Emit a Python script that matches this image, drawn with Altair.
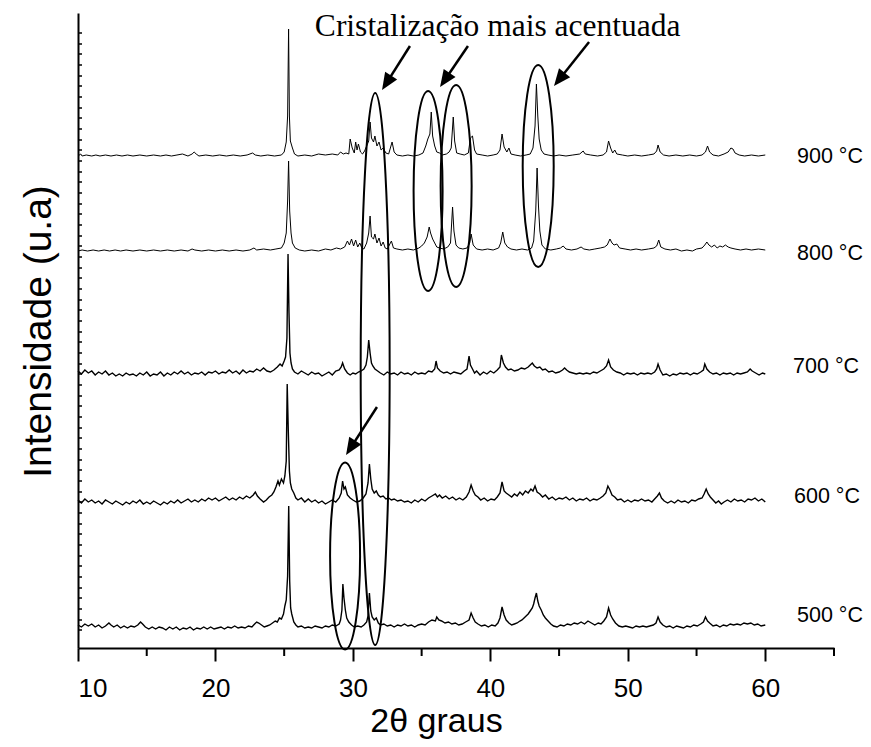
import math
import altair as alt
import pandas as pd

W, H = 756, 635
X_DOM = [10, 65]
Y_DOM = [0, 635]

# ---- XRD traces: (2theta, intensity above own baseline, a.u.) ----
xrd_900 = [(10.0,0),(10.2,2),(10.3,0),(10.6,1),(11.0,0),(11.3,1),(11.6,0),(12.0,1),(12.4,0),(12.8,1),
 (13.2,0),(13.6,1),(14.0,0),(14.5,1),(15.0,0),(15.5,1),(16.0,0),(16.4,1),(16.8,0),(17.2,1),(17.6,2),
 (18.0,0),(18.3,2),(18.45,4),(18.6,2),(18.8,0),(19.3,1),(19.8,0),(20.3,1),(20.8,0),(21.3,1),(21.8,0),
 (22.3,1),(22.7,3),(22.9,1),(23.3,0),(23.8,1),(24.3,0),(24.8,1),(25.0,4),(25.15,14),(25.25,40),
 (25.32,127),(25.38,40),(25.45,15),(25.6,8),(25.75,2),(26.0,0),(26.5,1),(27.0,0),(27.5,2),(28.0,1),
 (28.5,2),(28.9,1),(29.1,4),(29.3,2),(29.5,3),(29.7,2),(29.8,17),(29.95,8),(30.1,3),(30.2,14),(30.3,6),
 (30.4,12),(30.55,4),(30.7,2),(30.85,5),(31.0,10),(31.15,15),(31.25,34),(31.35,18),(31.5,14),(31.6,20),
 (31.75,10),(31.9,14),(32.05,6),(32.2,8),(32.4,3),(32.6,2),(32.85,14),(33.0,4),(33.2,1),(33.6,0),(34.0,1),
 (34.4,0),(34.8,1),(35.1,3),(35.3,10),(35.45,17),(35.6,22),(35.7,44),(35.8,20),(35.95,10),(36.1,4),
 (36.3,3),(36.5,1),(36.8,2),(37.0,4),(37.15,8),(37.3,39),(37.4,15),(37.55,3),(37.8,2),(38.1,1),(38.4,3),
 (38.55,18),(38.7,20),(38.85,6),(39.0,2),(39.4,1),(39.8,0),(40.2,1),(40.5,2),(40.7,6),(40.85,22),(41.0,9),
 (41.2,4),(41.35,8),(41.5,2),(41.8,1),(42.2,0),(42.6,1),(42.9,2),(43.1,8),(43.25,30),(43.35,72),(43.45,40),
 (43.55,17),(43.7,6),(43.9,2),(44.2,1),(44.6,0),(45.0,1),(45.5,0),(46.0,1),(46.5,2),(46.75,5),(46.9,2),
 (47.3,1),(47.8,0),(48.2,1),(48.45,4),(48.6,15),(48.75,8),(48.9,3),(49.05,6),(49.2,2),(49.6,1),(50.0,0),
 (50.5,1),(51.0,0),(51.5,1),(51.9,2),(52.1,5),(52.2,11),(52.35,4),(52.6,1),(53.0,0),(53.5,1),(54.0,0),
 (54.5,1),(55.0,0),(55.4,1),(55.65,4),(55.8,10),(55.95,4),(56.2,1),(56.6,0),(57.0,2),(57.3,4),(57.5,8),
 (57.65,7),(57.8,3),(58.1,1),(58.5,0),(59.0,1),(59.5,0),(60.0,1)]

xrd_800 = [(10.0,0),(10.3,1),(10.7,0),(11.1,1),(11.5,0),(11.9,1),(12.3,0),(12.7,1),(13.1,0),(13.5,1),
 (14.0,0),(14.5,1),(15.0,0),(15.5,1),(16.0,0),(16.5,1),(17.0,0),(17.5,1),(18.0,0),(18.3,2),(18.5,1),
 (19.0,0),(19.5,1),(20.0,0),(20.5,1),(21.0,0),(21.5,1),(22.0,0),(22.5,1),(22.8,3),(23.0,1),(23.5,2),
 (24.0,1),(24.4,2),(24.8,3),(25.0,8),(25.15,18),(25.25,50),(25.32,90),(25.4,40),(25.5,18),(25.6,8),
 (25.8,3),(26.1,1),(26.5,0),(27.0,1),(27.5,0),(28.0,2),(28.4,1),(28.8,3),(29.1,2),(29.4,4),(29.6,10),
 (29.75,6),(29.9,12),(30.05,5),(30.2,11),(30.35,4),(30.5,8),(30.65,3),(30.8,2),(31.0,8),(31.15,18),
 (31.25,35),(31.35,14),(31.5,12),(31.6,17),(31.75,8),(31.9,13),(32.05,5),(32.2,9),(32.35,3),(32.5,2),
 (32.8,10),(32.95,3),(33.2,2),(33.6,1),(34.0,2),(34.4,1),(34.8,3),(35.0,5),(35.2,8),(35.4,14),(35.55,24),
 (35.65,18),(35.8,12),(35.95,8),(36.1,4),(36.3,3),(36.6,2),(36.9,4),(37.1,8),(37.25,44),(37.35,20),
 (37.5,6),(37.7,3),(38.0,2),(38.3,3),(38.5,8),(38.6,17),(38.75,6),(39.0,2),(39.4,1),(39.8,2),(40.2,1),
 (40.6,3),(40.75,8),(40.9,19),(41.05,8),(41.25,4),(41.5,2),(41.9,1),(42.3,2),(42.7,1),(43.0,3),(43.15,10),
 (43.3,40),(43.4,83),(43.5,45),(43.6,20),(43.75,6),(44.0,2),(44.4,1),(44.8,2),(45.1,3),(45.3,5),(45.5,2),
 (45.9,1),(46.3,2),(46.6,4),(46.8,2),(47.2,1),(47.6,2),(48.0,3),(48.3,4),(48.5,6),(48.7,12),(48.85,8),
 (49.0,6),(49.2,7),(49.4,3),(49.8,2),(50.2,1),(50.6,2),(51.0,1),(51.5,2),(51.9,3),(52.1,5),(52.25,11),
 (52.4,4),(52.7,2),(53.1,1),(53.5,2),(53.9,0),(54.3,1),(54.7,0),(55.0,2),(55.4,3),(55.6,6),(55.75,9),
 (55.9,6),(56.1,4),(56.3,6),(56.5,3),(56.7,5),(56.9,4),(57.1,6),(57.3,4),(57.5,3),(57.8,2),(58.2,1),
 (58.6,2),(59.0,1),(59.5,2),(60.0,1)]

xrd_700 = [(10.0,2),(10.25,-1),(10.5,3),(10.75,0),(11.0,2),(11.25,-2),(11.5,1),(11.75,-1),(12.0,2),
 (12.25,-2),(12.5,0),(12.75,-3),(13.0,-1),(13.25,-3),(13.5,0),(13.75,-2),(14.0,-1),(14.25,-3),(14.5,0),
 (14.75,-2),(15.0,1),(15.25,-3),(15.5,-1),(15.75,-2),(16.0,1),(16.25,-3),(16.5,0),(16.75,-2),(17.0,1),
 (17.25,-1),(17.5,2),(17.75,-1),(18.0,1),(18.25,-2),(18.5,0),(18.75,-1),(19.0,1),(19.25,-2),(19.5,1),
 (19.75,0),(20.0,2),(20.25,-1),(20.5,1),(20.75,0),(21.0,3),(21.25,0),(21.5,2),(21.75,-1),(22.0,3),
 (22.25,0),(22.5,2),(22.75,1),(23.0,4),(23.25,2),(23.5,5),(23.75,2),(24.0,1),(24.25,3),(24.5,6),(24.7,9),
 (24.85,7),(25.0,12),(25.1,16),(25.2,35),(25.28,119),(25.35,60),(25.42,20),(25.5,10),(25.6,4),(25.75,1),
 (26.0,-1),(26.25,2),(26.5,0),(26.75,-2),(27.0,1),(27.25,-1),(27.5,0),(27.75,-3),(28.0,-1),(28.25,1),
 (28.5,-2),(28.75,2),(29.0,3),(29.15,6),(29.25,10),(29.4,4),(29.6,0),(29.8,-2),(30.0,0),(30.2,-1),
 (30.4,1),(30.6,2),(30.8,4),(30.95,8),(31.05,16),(31.15,33),(31.25,20),(31.35,10),(31.45,7),(31.6,4),
 (31.8,2),(32.0,0),(32.25,-2),(32.5,1),(32.75,-1),(33.0,0),(33.25,-2),(33.5,1),(33.75,-1),(34.0,0),
 (34.25,-2),(34.5,1),(34.75,-1),(35.0,0),(35.25,-1),(35.5,2),(35.75,1),(35.95,4),(36.05,12),(36.15,5),
 (36.35,2),(36.6,0),(36.85,1),(37.1,-1),(37.35,1),(37.6,0),(37.85,-1),(38.1,2),(38.3,4),(38.45,17),
 (38.55,8),(38.7,4),(38.85,0),(39.0,2),(39.25,-2),(39.5,1),(39.75,-1),(40.0,2),(40.25,0),(40.5,3),
 (40.7,6),(40.8,18),(40.95,10),(41.1,6),(41.3,3),(41.5,4),(41.75,2),(42.0,3),(42.25,5),(42.5,4),(42.75,6),
 (42.9,8),(43.05,10),(43.2,7),(43.4,5),(43.6,6),(43.8,3),(44.0,4),(44.25,1),(44.5,2),(44.75,0),(45.0,1),
 (45.25,3),(45.4,5),(45.55,3),(45.75,1),(46.0,0),(46.25,-1),(46.5,0),(46.75,-1),(47.0,0),(47.25,-1),
 (47.5,1),(47.75,0),(48.0,2),(48.25,4),(48.45,7),(48.6,13),(48.75,6),(48.95,3),(49.2,1),(49.45,0),
 (49.7,-2),(49.95,0),(50.2,-1),(50.45,0),(50.7,-2),(50.95,0),(51.2,-1),(51.45,0),(51.7,-1),(51.95,1),
 (52.1,4),(52.2,9),(52.35,3),(52.55,-2),(52.8,-1),(53.05,-3),(53.3,-1),(53.55,-2),(53.8,0),(54.05,-1),
 (54.3,0),(54.55,-2),(54.8,0),(55.05,-1),(55.3,1),(55.5,3),(55.6,9),(55.75,4),(55.95,1),(56.2,-1),
 (56.45,0),(56.7,-2),(56.95,0),(57.2,-1),(57.45,0),(57.7,-2),(57.95,0),(58.2,-1),(58.45,0),(58.7,1),
 (58.9,4),(59.05,2),(59.3,0),(59.55,-2),(59.8,0),(60.0,-1)]

xrd_600 = [(10.0,1),(10.25,-2),(10.5,2),(10.75,-1),(11.0,1),(11.25,-2),(11.5,0),(11.75,-3),(12.0,1),
 (12.25,-1),(12.5,-3),(12.75,0),(13.0,-2),(13.25,-4),(13.5,-1),(13.75,-3),(14.0,0),(14.25,-2),(14.5,1),
 (14.75,-3),(15.0,-1),(15.25,-3),(15.5,0),(15.75,-2),(16.0,-4),(16.25,-1),(16.5,-3),(16.75,0),(17.0,-2),
 (17.25,1),(17.5,-2),(17.75,0),(18.0,2),(18.25,-1),(18.5,1),(18.75,-1),(19.0,2),(19.25,0),(19.5,3),
 (19.75,1),(20.0,3),(20.25,0),(20.5,2),(20.75,4),(21.0,1),(21.25,3),(21.5,1),(21.75,4),(22.0,2),(22.25,5),
 (22.5,3),(22.75,6),(22.9,9),(23.05,5),(23.25,2),(23.5,-1),(23.7,1),(23.9,4),(24.1,6),(24.25,9),(24.4,14),
 (24.55,20),(24.65,16),(24.8,22),(24.95,18),(25.05,25),(25.15,40),(25.22,117),(25.3,70),(25.38,30),
 (25.45,18),(25.55,12),(25.7,8),(25.85,3),(26.0,1),(26.25,3),(26.5,-1),(26.75,2),(27.0,-1),(27.25,1),
 (27.5,-2),(27.75,0),(28.0,-3),(28.25,-1),(28.5,1),(28.75,-1),(29.0,3),(29.15,8),(29.25,20),(29.35,12),
 (29.45,14),(29.6,6),(29.8,3),(30.0,1),(30.25,-1),(30.5,0),(30.75,3),(30.95,7),(31.1,18),(31.2,37),
 (31.3,22),(31.4,12),(31.55,8),(31.7,10),(31.85,6),(32.0,4),(32.2,5),(32.4,2),(32.6,3),(32.8,1),(33.0,2),
 (33.25,0),(33.5,1),(33.75,-1),(34.0,0),(34.25,-2),(34.5,1),(34.75,-1),(35.0,2),(35.25,0),(35.5,3),
 (35.75,5),(36.0,7),(36.15,4),(36.3,6),(36.5,3),(36.75,5),(37.0,2),(37.25,4),(37.5,1),(37.75,3),(38.0,1),
 (38.25,4),(38.45,9),(38.6,16),(38.75,10),(38.9,6),(39.1,4),(39.3,1),(39.55,3),(39.8,0),(40.05,2),
 (40.3,1),(40.5,4),(40.7,8),(40.85,19),(41.0,10),(41.15,8),(41.35,6),(41.55,4),(41.75,7),(41.95,5),
 (42.15,9),(42.35,6),(42.55,10),(42.75,8),(42.95,12),(43.1,10),(43.25,15),(43.4,9),(43.6,7),(43.8,4),
 (44.0,6),(44.25,2),(44.5,4),(44.75,1),(45.0,3),(45.25,2),(45.5,4),(45.75,1),(46.0,3),(46.25,0),(46.5,2),
 (46.75,1),(47.0,3),(47.25,0),(47.5,2),(47.75,1),(48.0,3),(48.2,5),(48.4,8),(48.55,15),(48.7,11),
 (48.85,6),(49.05,4),(49.25,1),(49.5,2),(49.75,-1),(50.0,1),(50.25,-1),(50.5,1),(50.75,0),(51.0,2),
 (51.25,0),(51.5,1),(51.75,-1),(51.95,2),(52.15,5),(52.3,8),(52.45,3),(52.65,0),(52.9,-2),(53.15,0),
 (53.4,-2),(53.65,1),(53.9,-1),(54.15,0),(54.4,-2),(54.65,1),(54.9,0),(55.15,2),(55.4,3),(55.55,7),
 (55.7,12),(55.85,7),(56.0,4),(56.2,1),(56.4,-2),(56.6,0),(56.8,-3),(57.0,-1),(57.25,1),(57.5,-1),
 (57.75,2),(58.0,0),(58.25,1),(58.5,-1),(58.75,2),(59.0,1),(59.25,3),(59.5,0),(59.75,2),(60.0,-1)]

xrd_500 = [(10.0,1),(10.25,-1),(10.5,2),(10.75,0),(11.0,2),(11.25,-1),(11.5,1),(11.75,-2),(12.0,0),
 (12.25,3),(12.4,1),(12.6,-1),(12.85,1),(13.1,-2),(13.35,0),(13.6,-2),(13.85,0),(14.1,-1),(14.35,1),
 (14.55,4),(14.7,2),(14.9,-1),(15.15,-3),(15.4,-1),(15.65,-3),(15.9,-1),(16.15,-2),(16.4,-4),(16.65,-1),
 (16.9,-3),(17.15,-1),(17.4,-4),(17.65,-2),(17.9,-3),(18.15,-1),(18.4,-4),(18.65,-2),(18.9,-3),(19.15,-1),
 (19.4,-3),(19.65,-1),(19.9,-3),(20.15,-2),(20.4,-1),(20.65,-3),(20.9,-1),(21.15,-2),(21.4,0),(21.65,-2),
 (21.9,-1),(22.15,-2),(22.4,0),(22.65,-1),(22.85,2),(23.0,4),(23.15,3),(23.35,1),(23.55,-1),(23.75,0),
 (23.95,1),(24.15,3),(24.35,5),(24.5,4),(24.65,8),(24.8,7),(24.95,12),(25.05,20),(25.15,26),(25.25,50),
 (25.33,120),(25.4,45),(25.47,18),(25.55,12),(25.7,4),(25.85,1),(26.0,-1),(26.25,0),(26.5,-2),(26.75,-1),
 (27.0,-2),(27.25,0),(27.5,-1),(27.75,-2),(28.0,0),(28.25,-1),(28.5,1),(28.75,0),(29.0,2),(29.1,6),
 (29.2,16),(29.27,42),(29.35,28),(29.45,16),(29.55,8),(29.7,4),(29.9,1),(30.1,-1),(30.35,0),(30.6,-1),
 (30.8,1),(31.0,4),(31.1,10),(31.2,33),(31.3,15),(31.4,9),(31.55,6),(31.7,8),(31.85,3),(32.0,1),(32.25,2),
 (32.5,0),(32.75,1),(33.0,-1),(33.25,1),(33.5,0),(33.75,2),(34.0,0),(34.25,1),(34.5,-1),(34.75,1),
 (35.0,2),(35.25,1),(35.5,4),(35.75,6),(36.0,5),(36.1,9),(36.25,6),(36.45,5),(36.7,3),(36.95,4),(37.2,2),
 (37.45,3),(37.7,1),(37.95,2),(38.2,4),(38.45,6),(38.6,13),(38.75,8),(38.9,4),(39.1,2),(39.35,0),(39.6,1),
 (39.85,-1),(40.1,1),(40.35,0),(40.55,3),(40.7,8),(40.85,19),(41.0,11),(41.15,6),(41.35,3),(41.55,1),
 (41.75,2),(41.95,3),(42.15,5),(42.3,6),(42.45,8),(42.6,10),(42.75,12),(42.9,15),(43.05,18),(43.15,22),
 (43.25,28),(43.35,33),(43.45,25),(43.55,20),(43.7,16),(43.85,11),(44.0,8),(44.2,5),(44.4,2),(44.6,0),
 (44.85,-1),(45.1,1),(45.35,0),(45.6,2),(45.85,1),(46.1,3),(46.35,2),(46.6,4),(46.85,2),(47.1,5),
 (47.35,3),(47.6,1),(47.85,3),(48.05,2),(48.25,5),(48.45,9),(48.6,18),(48.75,11),(48.9,7),(49.1,3),
 (49.35,0),(49.6,-1),(49.85,0),(50.1,-1),(50.35,-2),(50.6,0),(50.85,-1),(51.1,0),(51.35,-1),(51.6,0),
 (51.85,1),(52.05,3),(52.2,9),(52.35,4),(52.55,1),(52.8,-1),(53.05,0),(53.3,-2),(53.55,0),(53.8,-1),
 (54.05,-2),(54.3,0),(54.55,-1),(54.8,1),(55.05,0),(55.3,2),(55.5,4),(55.65,9),(55.8,5),(55.95,3),
 (56.2,0),(56.45,1),(56.7,-1),(56.95,1),(57.2,0),(57.45,2),(57.7,1),(57.95,2),(58.2,1),(58.45,3),
 (58.7,2),(58.95,3),(59.2,1),(59.45,2),(59.7,0),(60.0,1)]

temps = ["900", "800", "700", "600", "500"]
series = [xrd_900, xrd_800, xrd_700, xrd_600, xrd_500]
stack_offset = [492, 397, 275, 147, 22]   # vertical offset of each pattern (a.u.)
noisy = ["700", "600", "500"]

rows = []
for t, s, off in zip(temps, series, stack_offset):
    for tt, inten in s:
        rows.append({"trace": t, "x": tt, "y": off + inten})
df = pd.DataFrame(rows)
df_smooth = df[~df["trace"].isin(noisy)]
df_noisy = df[df["trace"].isin(noisy)]

# ---- annotations ----
label_text = ["900 \u00b0C", "800 \u00b0C", "700 \u00b0C", "600 \u00b0C", "500 \u00b0C"]
label_x = [62.31, 62.31, 62.02, 62.09, 62.31]
label_y = [485, 388, 275, 145, 26]

ell_cx = [31.62, 35.47, 37.51, 43.48, 29.43]
ell_cy = [279, 457, 462, 482, 92]
ell_hw = [14.5, 14.5, 15.5, 15.5, 15.0]   # px
ell_hh = [276, 100, 101, 101, 93.5]        # px

arr_x0 = [34.15, 38.37, 47.18, 31.75]
arr_y0 = [602, 602, 606, 241]
arr_x1 = [32.12, 36.34, 44.63, 29.50]
arr_y1 = [558, 561, 562, 193]

title_txt = "Cristaliza\u00e7\u00e3o mais acentuada"
x_major = [10, 20, 30, 40, 50, 60]
x_minor = [15, 25, 35, 45, 55, 65]
y_minor = [615, 604, 594, 583, 572, 562, 551, 540, 530, 519, 508, 498, 487, 476, 466, 455, 444, 434,
           423, 412, 402, 391, 380, 370, 359, 348, 338, 327, 316, 306, 295, 284, 274, 263, 252, 242,
           231, 220, 210, 199, 188, 178, 167, 156, 146, 135, 124, 114, 103, 92, 82, 71, 60, 50, 39, 28, 18]

PXX = W / (X_DOM[1] - X_DOM[0])
PXY = H / (Y_DOM[1] - Y_DOM[0])


def ellipse_path(a, k=0.5523):
    ka = k * a
    return (f"M 0 -1 C {ka:.4f} -1 {a:.4f} {-k} {a:.4f} 0 "
            f"C {a:.4f} {k} {ka:.4f} 1 0 1 "
            f"C {-ka:.4f} 1 {-a:.4f} {k} {-a:.4f} 0 "
            f"C {-a:.4f} {-k} {-ka:.4f} -1 0 -1 Z")


ell_df = pd.DataFrame({
    "x": ell_cx, "y": ell_cy,
    "shape": [ellipse_path(w / h) for w, h in zip(ell_hw, ell_hh)],
    "size": [4 * h * h for h in ell_hh],
})

arr_rows = []
for x0, y0, x1, y1 in zip(arr_x0, arr_y0, arr_x1, arr_y1):
    dxp = (x1 - x0) * PXX
    dyp = -(y1 - y0) * PXY
    L = math.hypot(dxp, dyp)
    f = 10.0 / L
    ang = math.degrees(math.atan2(dxp, -dyp)) % 360
    arr_rows.append({"x": x0, "y": y0, "x2": x1 + f * (x0 - x1), "y2": y1 + f * (y0 - y1),
                     "tx": x1, "ty": y1, "angle": ang})
arr_df = pd.DataFrame(arr_rows)

xs = alt.Scale(domain=X_DOM, nice=False)
ys = alt.Scale(domain=Y_DOM, nice=False)

SANS = "Liberation Sans"

AX = alt.Axis(
    values=x_major, format="d", tickSize=13, tickWidth=2, tickColor="black",
    labelFontSize=26, labelFont=SANS, labelPadding=14, labelColor="black",
    title="2\u03b8 graus", titleFont=SANS, titleFontSize=34, titleFontWeight="normal",
    titleX=358, titleY=83, titleBaseline="alphabetic", titleColor="black",
    domainColor="black", domainWidth=2, grid=False)
AY = alt.Axis(
    labels=False, ticks=False, title="Intensidade (u.a)", titleFont=SANS,
    titleFontSize=39, titleFontWeight="normal", titleX=-28, titleY=318,
    titleAngle=270, titleBaseline="alphabetic", titleColor="black",
    domainColor="black", domainWidth=2, grid=False)


def X(field):
    return alt.X(field, scale=xs, axis=AX, title="2\u03b8 graus")


def Y(field):
    return alt.Y(field, scale=ys, axis=AY, title="Intensidade (u.a)")


lines_smooth = alt.Chart(df_smooth).mark_line(color="black", strokeWidth=1.0).encode(
    x=X("x:Q"), y=Y("y:Q"), detail="trace:N",
)
lines_noisy = alt.Chart(df_noisy).mark_line(color="black", strokeWidth=1.4).encode(
    x=X("x:Q"), y=Y("y:Q"), detail="trace:N",
)

ellipses = alt.Chart(ell_df).mark_point(filled=False, color="black", strokeWidth=2, opacity=1).encode(
    x=X("x:Q"), y=Y("y:Q"),
    shape=alt.Shape("shape:N", scale=None),
    size=alt.Size("size:Q", scale=None),
)

shafts = alt.Chart(arr_df).mark_rule(color="black", strokeWidth=2.5).encode(
    x=X("x:Q"), y=Y("y:Q"), x2="x2:Q", y2="y2:Q",
)

heads = alt.Chart(arr_df).mark_point(filled=True, color="black", opacity=1, strokeWidth=0,
                                     shape="M 0 0 L 0.42 1 L -0.42 1 Z", size=4 * 17 * 17).encode(
    x=X("tx:Q"), y=Y("ty:Q"),
    angle=alt.Angle("angle:Q", scale=None),
)

lab_df = pd.DataFrame({"x": label_x, "y": label_y, "t": label_text})
labels = alt.Chart(lab_df).mark_text(align="left", baseline="alphabetic", font=SANS,
                                     fontSize=21.5, color="black").encode(
    x=X("x:Q"), y=Y("y:Q"), text="t:N",
)

ttl_df = pd.DataFrame({"x": [40.53], "y": [612], "t": [title_txt]})
title_mark = alt.Chart(ttl_df).mark_text(align="center", baseline="alphabetic",
                                         font="Liberation Serif", fontSize=31.5, color="black").encode(
    x=X("x:Q"), y=Y("y:Q"), text="t:N",
)

xmin_df = pd.DataFrame({"x": x_minor})
x_minor_ticks = alt.Chart(xmin_df).mark_rule(color="black", strokeWidth=2).encode(
    x=X("x:Q"), y=alt.value(H), y2=alt.value(H + 8),
)

ymin_df = pd.DataFrame({"y": y_minor})
y_minor_ticks = alt.Chart(ymin_df).mark_rule(color="black", strokeWidth=1.5).encode(
    y=Y("y:Q"), x=alt.value(0), x2=alt.value(4),
)

chart = alt.layer(lines_smooth, lines_noisy, ellipses, shafts, heads, labels, title_mark,
                  x_minor_ticks, y_minor_ticks).properties(
    width=W, height=H,
    autosize=alt.AutoSizeParams(type="none"),
    padding={"left": 70, "top": 5, "right": 29, "bottom": 91},
).configure_view(stroke=None)

chart.save("out.html", embed_options={"renderer": "svg", "actions": False})
